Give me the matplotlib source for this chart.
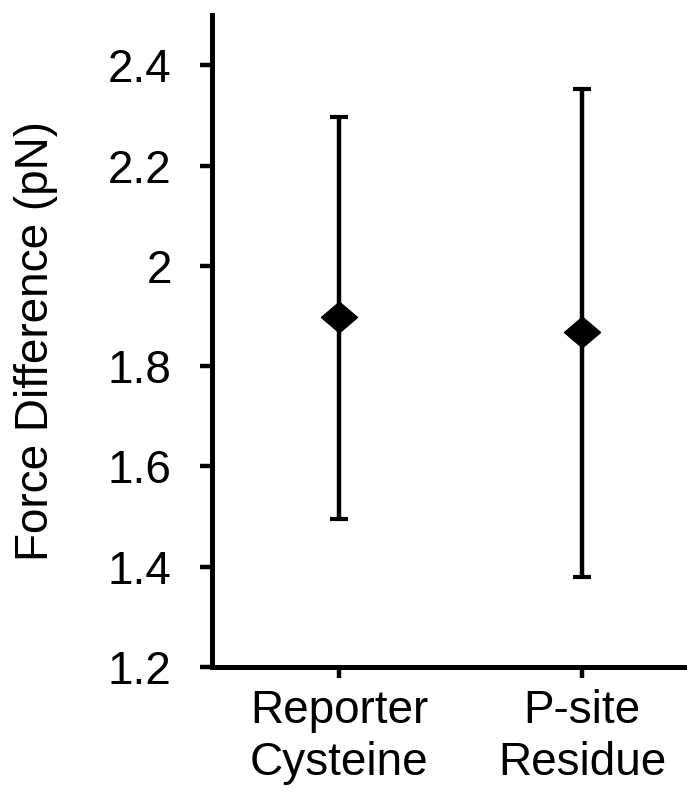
import numpy as np
import matplotlib
matplotlib.use('Agg')
import matplotlib.pyplot as plt
from matplotlib.path import Path

# data
groups = ['Reporter\nCysteine', 'P-site\nResidue']
means = [1.897, 1.869]
upper = [2.296, 2.352]
lower = [1.496, 1.379]

plt.rcParams['font.family'] = ['Liberation Sans', 'DejaVu Sans']

x = np.arange(1, len(groups) + 1)
err = [np.array(means) - np.array(lower), np.array(upper) - np.array(means)]

# wide diamond marker
diamond = Path([(-1, 0), (0, 0.85), (1, 0), (0, -0.85), (-1, 0)],
			   [Path.MOVETO, Path.LINETO, Path.LINETO, Path.LINETO, Path.CLOSEPOLY])

fig = plt.figure(figsize=(6.87, 7.95), dpi=100)
ax = fig.add_axes([0.3086, 0.161, 0.6914, 0.820])

ax.errorbar(x, means, yerr=err, fmt='none', ecolor='black', elinewidth=3.2,
			capsize=6.5, capthick=3.0, zorder=2)
ax.plot(x, means, linestyle='none', marker=diamond, markersize=26,
		color='black', zorder=3)

ax.set_xlim(0.477, 2.432)
ax.set_ylim(1.2, 2.5)
ax.set_yticks([1.2, 1.4, 1.6, 1.8, 2.0, 2.2, 2.4])
ax.set_yticklabels(['1.2', '1.4', '1.6', '1.8', '2', '2.2', '2.4'])
ax.set_xticks(x)
ax.set_xticklabels(groups, linespacing=1.22)

for s in ['top', 'right']:
	ax.spines[s].set_visible(False)
for s in ['left', 'bottom']:
	ax.spines[s].set_linewidth(3.6)

ax.tick_params(axis='y', direction='out', length=9, width=3.2, labelsize=33, pad=20)
ax.tick_params(axis='x', direction='out', length=8, width=3.2, labelsize=33, pad=8)
ax.set_ylabel('Force Difference (pN)', fontsize=33, labelpad=36)

fig.savefig('out.png', dpi=100)
